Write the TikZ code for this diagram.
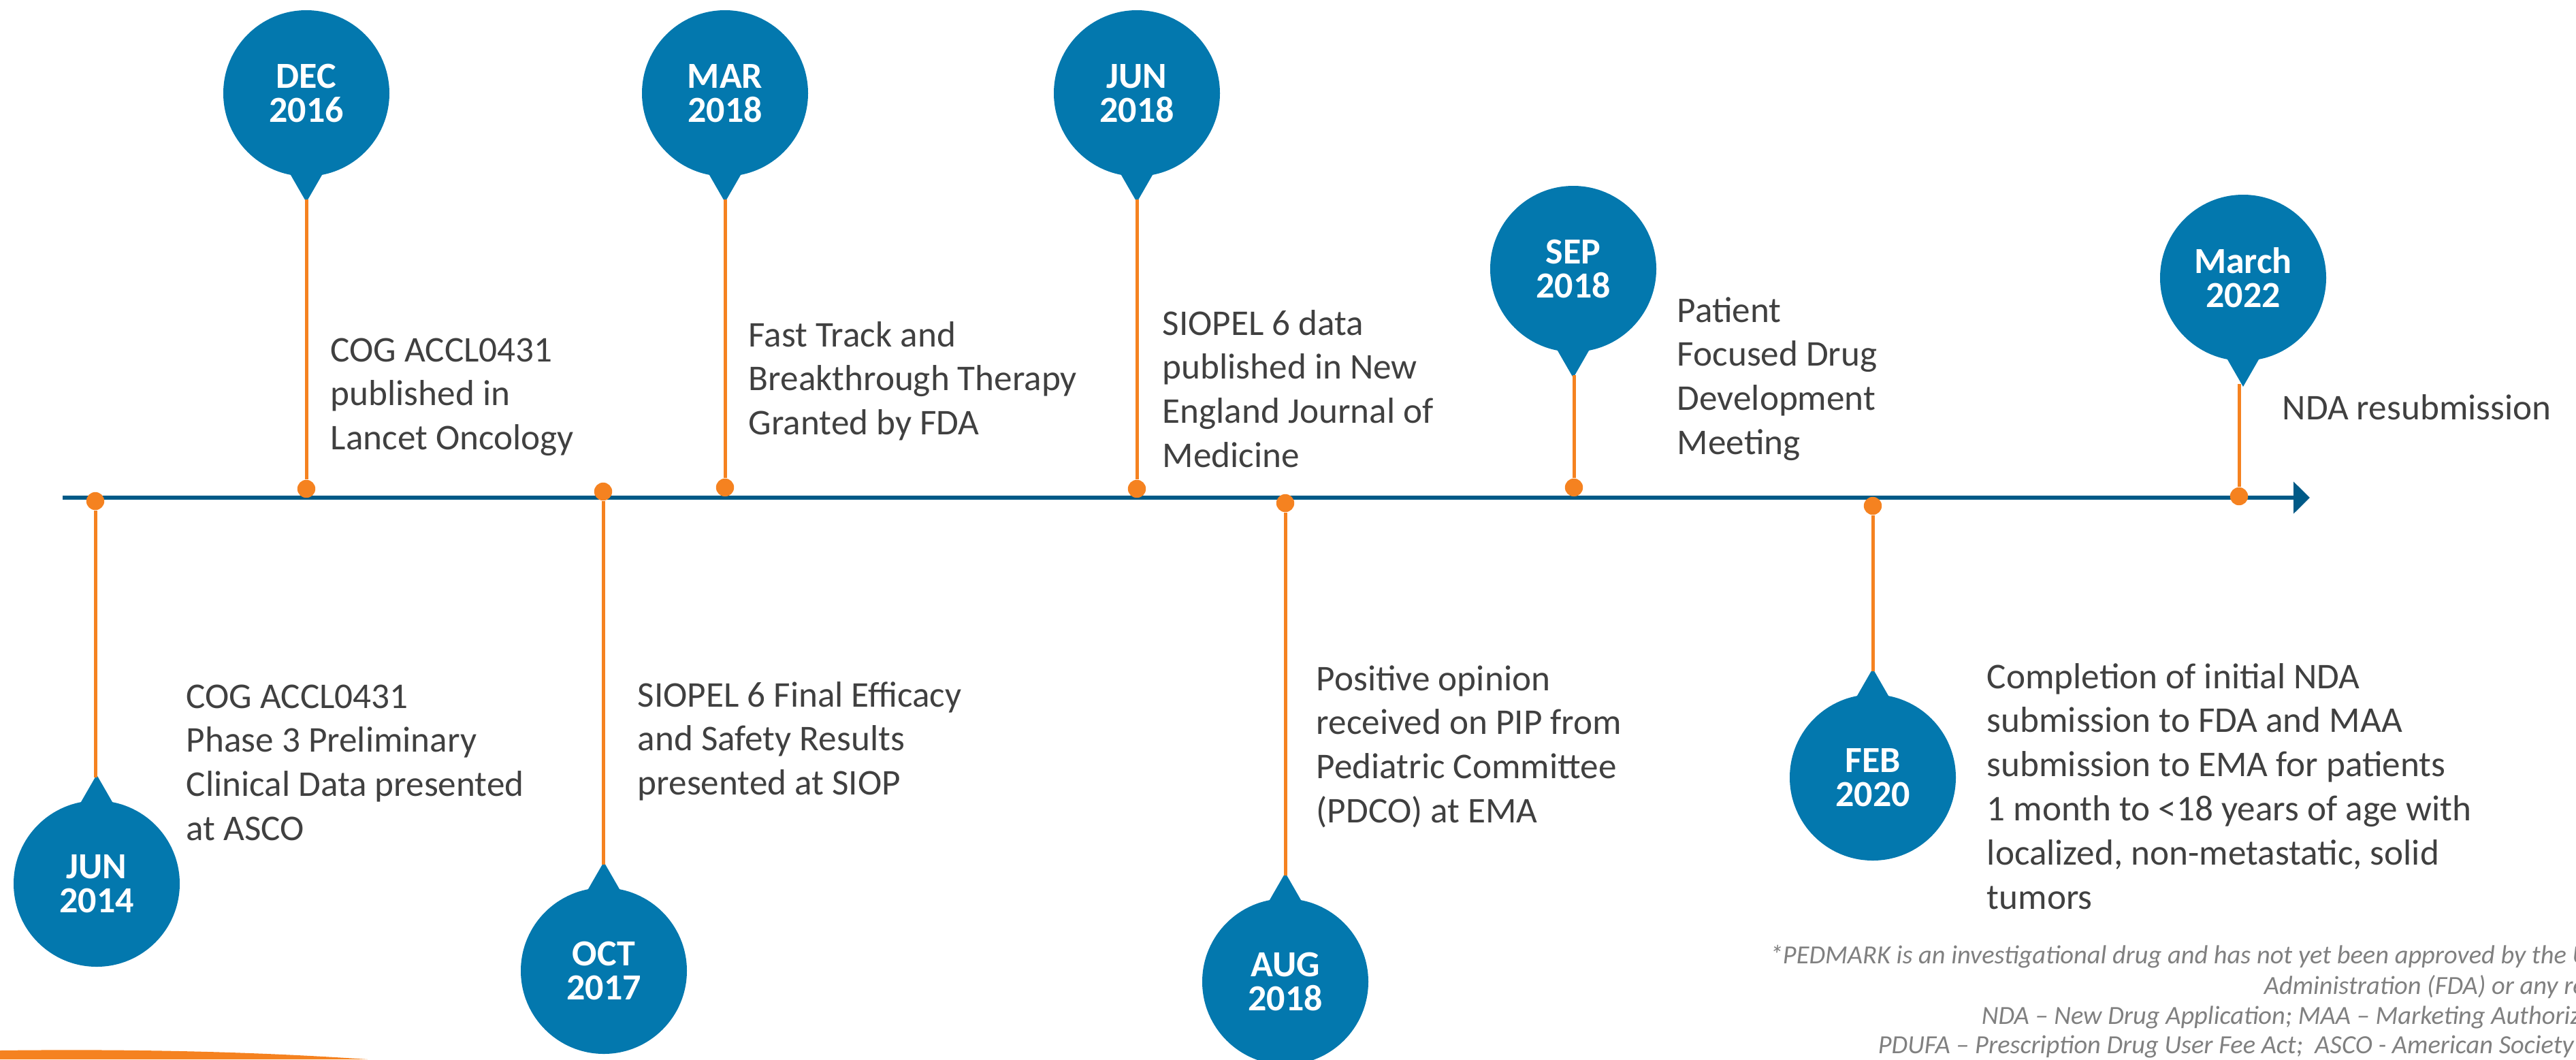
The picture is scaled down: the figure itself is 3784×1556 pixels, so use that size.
\documentclass[tikz,border=0pt]{standalone}
\usepackage{fontspec}
\setmainfont{Carlito}
\usetikzlibrary{calc,arrows.meta}
\definecolor{pinblue}{HTML}{0378AE}
\definecolor{axisblue}{HTML}{005A87}
\definecolor{dotorange}{HTML}{F58220}
\definecolor{txtgray}{HTML}{404040}
\definecolor{notegray}{HTML}{808080}
\newcommand{\tlines}[1]{\begin{tabular}[t]{@{}l@{}}#1\end{tabular}}
\begin{document}
\begin{tikzpicture}[x=0.25pt,y=-0.25pt,
  pinnode/.style={circle, fill=pinblue, text=white, minimum size=61pt, inner sep=0pt, align=center, font=\fontsize{13.5}{12.4}\selectfont\bfseries},
  datedot/.style={circle, fill=dotorange, minimum size=6.6pt, inner sep=0pt},
  stemline/.style={draw=dotorange, line width=1.25pt},
  axisline/.style={draw=axisblue, line width=1.4pt, -{Triangle[length=6pt,width=11.5pt]}},
  desc/.style={anchor=base west, inner sep=0pt, text=txtgray, font=\fontsize{13.3}{16.2}\selectfont},
  note/.style={anchor=base west, inner sep=0pt, text=notegray, font=\fontsize{9.6}{11}\selectfont\itshape},
]
\useasboundingbox (0,0) rectangle (3784,1556);
\begin{scope}
\clip (0,0) rectangle (3784,1556);
% axis
\coordinate (axs) at (92,731);
\coordinate (axe) at (3393,731);
\draw[axisline] (axs) -- (axe);
% pins, dots, stems
\foreach \i/\cx/\cy/\d/\sx/\dy/\lab in {
  1/142/1298/-1/140/736/{JUN\\2014},
  2/450/137/1/450/718/{DEC\\2016},
  3/887/1426/-1/886/722/{OCT\\2017},
  4/1065/137/1/1065/716/{MAR\\2018},
  5/1670/137/1/1670/718/{JUN\\2018},
  6/1888/1442/-1/1888/739/{AUG\\2018},
  7/2311/395/1/2312/716/{SEP\\2018},
  8/2751/1142/-1/2751/743/{FEB\\2020},
  9/3295/408/1/3289/729/{March\\2022}}{
  \fill[pinblue] ({\cx-34.5},{\cy+(\d)*100}) -- ({\cx+34.5},{\cy+(\d)*100}) -- (\cx,{\cy+(\d)*160}) -- cycle;
  \node[pinnode] (p\i) at (\cx,\cy) {\lab};
  \coordinate (s\i) at (\sx,{\cy+(\d)*156});
  \node[datedot] (d\i) at (\sx,\dy) {};
  \draw[stemline] (d\i) -- (s\i);
}
% descriptions
\node[desc] (x1) at (273,1040) {\tlines{COG ACCL0431\\Phase 3 Preliminary\\Clinical Data presented\\at ASCO}};
\node[desc] (x2) at (485,531) {\tlines{COG ACCL0431\\published in\\Lancet Oncology}};
\node[desc] (x3) at (936,1038) {\tlines{SIOPEL 6 Final Efficacy\\and Safety Results\\presented at SIOP}};
\node[desc] (x4) at (1099,509) {\tlines{Fast Track and\\Breakthrough Therapy\\Granted by FDA}};
\node[desc] (x5) at (1707,492) {\tlines{SIOPEL 6 data\\published in New\\England Journal of\\Medicine}};
\node[desc] (x6) at (1933,1014) {\tlines{Positive opinion\\received on PIP from\\Pediatric Committee\\(PDCO) at EMA}};
\node[desc] (x7) at (2463,473) {\tlines{Patient\\Focused Drug\\Development\\Meeting}};
\node[desc] (x8) at (2918,1011) {\tlines{Completion of initial NDA\\submission to FDA and MAA\\submission to EMA for patients\\1 month to <18 years of age with\\localized, non-metastatic, solid\\tumors}};
\node[desc] (x9) at (3352,616) {NDA resubmission};
% footnotes
\node[note] (n1) at (2599,1415) {*PEDMARK is an investigational drug and has not yet been approved by the U};
\node[note] (n2) at (3325,1460) {Administration (FDA) or any re};
\node[note] (n3) at (2910,1504) {NDA – New Drug Application; MAA – Marketing Authoriz};
\node[note] (n4) at (2758,1547) {PDUFA – Prescription Drug User Fee Act;\ \ ASCO - American Society};
% orange swoosh
\fill[dotorange] (0,1556) -- (0,1543) .. controls (250,1540) and (420,1548) .. (540,1556) -- cycle;
\end{scope}
\end{tikzpicture}
\end{document}
